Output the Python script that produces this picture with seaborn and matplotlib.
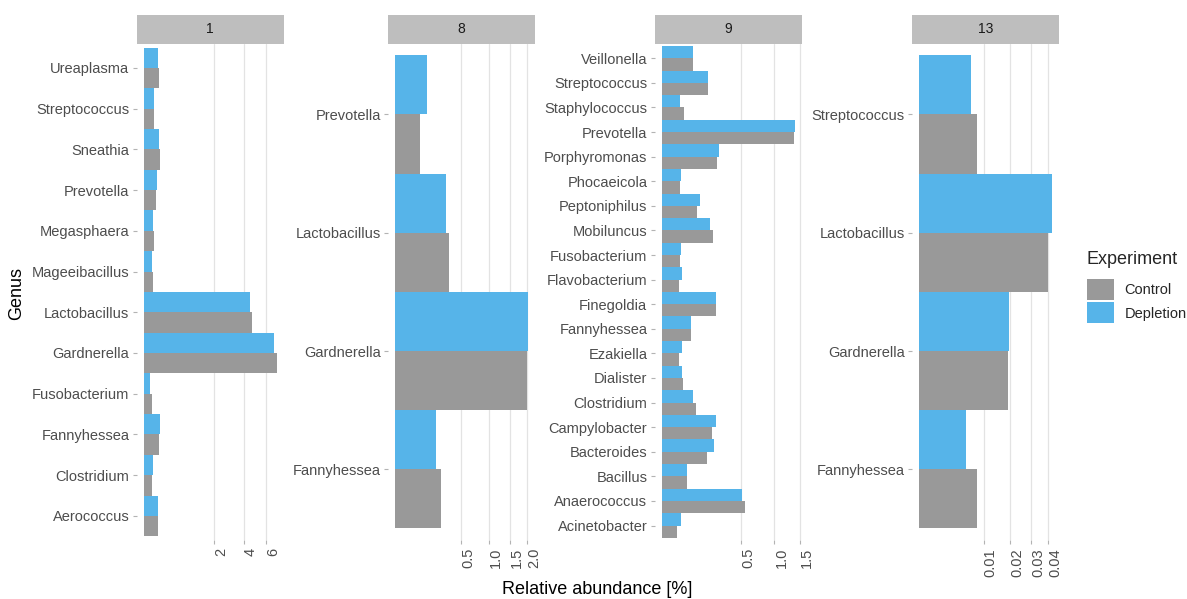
import numpy as np
import pandas as pd
import matplotlib
matplotlib.use("Agg")
import matplotlib.pyplot as plt
from matplotlib.patches import Rectangle
import seaborn as sns

# -----------------------------------------------------------------------------
# Data (relative abundance in %)
# -----------------------------------------------------------------------------
facets = ["1", "8", "9", "13"]
experiments = ["Control", "Depletion"]
exp_colors = ["#999999", "#56B4E9"]

genus_1 = ["Aerococcus", "Clostridium", "Fannyhessea", "Fusobacterium", "Gardnerella",
           "Lactobacillus", "Mageeibacillus", "Megasphaera", "Prevotella", "Sneathia",
           "Streptococcus", "Ureaplasma"]
control_1 = [0.078, 0.030, 0.093, 0.030, 7.09, 4.71, 0.032, 0.040, 0.064, 0.105, 0.040, 0.089]
depletion_1 = [0.078, 0.034, 0.102, 0.018, 6.74, 4.48, 0.030, 0.034, 0.070, 0.093, 0.042, 0.081]
ticks_1 = [2, 4, 6]
ticklabels_1 = ["2", "4", "6"]

genus_8 = ["Fannyhessea", "Gardnerella", "Lactobacillus", "Prevotella"]
control_8 = [0.238, 1.998, 0.329, 0.070]
depletion_8 = [0.195, 2.028, 0.300, 0.119]
ticks_8 = [0.5, 1.0, 1.5, 2.0]
ticklabels_8 = ["0.5", "1.0", "1.5", "2.0"]

genus_9 = ["Acinetobacter", "Anaerococcus", "Bacillus", "Bacteroides", "Campylobacter",
           "Clostridium", "Dialister", "Ezakiella", "Fannyhessea", "Finegoldia",
           "Flavobacterium", "Fusobacterium", "Mobiluncus", "Peptoniphilus", "Phocaeicola",
           "Porphyromonas", "Prevotella", "Staphylococcus", "Streptococcus", "Veillonella"]
control_9 = [0.018, 0.552, 0.049, 0.165, 0.203, 0.094, 0.036, 0.023, 0.070, 0.228,
             0.023, 0.027, 0.211, 0.101, 0.026, 0.242, 1.376, 0.039, 0.170, 0.075]
depletion_9 = [0.028, 0.504, 0.049, 0.217, 0.234, 0.075, 0.031, 0.032, 0.067, 0.228,
               0.032, 0.030, 0.185, 0.113, 0.028, 0.260, 1.397, 0.027, 0.170, 0.075]
ticks_9 = [0.5, 1.0, 1.5]
ticklabels_9 = ["0.5", "1.0", "1.5"]

genus_13 = ["Fannyhessea", "Gardnerella", "Lactobacillus", "Streptococcus"]
control_13 = [0.0080, 0.0188, 0.0398, 0.0080]
depletion_13 = [0.0053, 0.0192, 0.0425, 0.0066]
ticks_13 = [0.01, 0.02, 0.03, 0.04]
ticklabels_13 = ["0.01", "0.02", "0.03", "0.04"]

panels = [
    (genus_1, control_1, depletion_1, ticks_1, ticklabels_1),
    (genus_8, control_8, depletion_8, ticks_8, ticklabels_8),
    (genus_9, control_9, depletion_9, ticks_9, ticklabels_9),
    (genus_13, control_13, depletion_13, ticks_13, ticklabels_13),
]


# square-root x axis (signed so the small left padding below zero works)
def sqrt_fwd(x):
    x = np.asarray(x, dtype=float)
    return np.sign(x) * np.sqrt(np.abs(x))


def sqrt_inv(y):
    y = np.asarray(y, dtype=float)
    return np.sign(y) * y ** 2


sns.set_theme(style="white")
plt.rcParams["font.family"] = ["Liberation Sans", "DejaVu Sans"]

W, H = 1187, 599
fig = plt.figure(figsize=(W / 100, H / 100), dpi=100, facecolor="white")

panel_left = [137, 388.3, 655, 912.3]
panel_w = 146.6
panel_top, panel_bottom = 43.5, 540.3
strip_px = 28.3
panel_h = panel_bottom - panel_top

handles, labels = None, None
for i, (facet, (genus, ctrl, depl, ticks, ticklabels)) in enumerate(zip(facets, panels)):
    ax = fig.add_axes([panel_left[i] / W, (H - panel_bottom) / H, panel_w / W, panel_h / H])
    n = len(genus)
    df = pd.DataFrame({
        "Genus": genus + genus,
        "Experiment": ["Control"] * n + ["Depletion"] * n,
        "Abundance": ctrl + depl,
    })
    sns.barplot(data=df, y="Genus", x="Abundance", hue="Experiment", order=genus,
                hue_order=experiments, palette=exp_colors, orient="h", width=1.0,
                saturation=1, errorbar=None, linewidth=0, ax=ax, legend=(i == 0))
    if i == 0:
        handles, labels = ax.get_legend_handles_labels()
        ax.get_legend().remove()

    ax.set_xscale("function", functions=(sqrt_fwd, sqrt_inv))
    smax = np.sqrt(df["Abundance"].max())
    ax.set_xlim(sqrt_inv(-0.05 * smax), sqrt_inv(1.05 * smax))
    ax.set_ylim(-0.6, n - 0.4)

    ax.set_xticks(ticks)
    ax.set_xticklabels(ticklabels, rotation=90, ha="left", va="top")
    ax.minorticks_off()
    ax.tick_params(axis="both", which="major", length=3, width=0.8, color="#B3B3B3",
                   labelcolor="#4D4D4D", labelsize=10.5, pad=2.5,
                   bottom=True, left=True)
    ax.grid(axis="x", color="#E3E3E3", linewidth=0.9)
    ax.grid(axis="y", visible=False)
    ax.set_axisbelow(True)
    for sp in ax.spines.values():
        sp.set_visible(False)
    ax.set_xlabel("")
    ax.set_ylabel("")

    # facet strip
    sh = strip_px / panel_h
    ax.add_patch(Rectangle((0, 1.0), 1, sh, transform=ax.transAxes, clip_on=False,
                           facecolor="#BEBEBE", edgecolor="none"))
    ax.text(0.5, 1 + sh / 2, facet, transform=ax.transAxes, ha="center", va="center",
            fontsize=10, color="#1A1A1A")

fig.text(597.5 / W, 1 - 590 / H, "Relative abundance [%]", ha="center", va="center",
         fontsize=13, color="black")
fig.text(17 / W, 1 - 293 / H, "Genus", ha="center", va="center", rotation=90,
         fontsize=13, color="black")

leg = fig.legend(handles, labels, title="Experiment", loc="upper left",
                 bbox_to_anchor=(1087 / W, 1 - 251 / H), frameon=False, fontsize=10.5,
                 title_fontsize=13, handlelength=1.83, handleheight=1.83,
                 labelspacing=0.16, handletextpad=0.75, alignment="left",
                 borderaxespad=0, borderpad=0)
leg._legend_box.sep = 8  # a bit more room between title and keys

fig.savefig("out.png", dpi=100, facecolor="white")
plt.close(fig)
